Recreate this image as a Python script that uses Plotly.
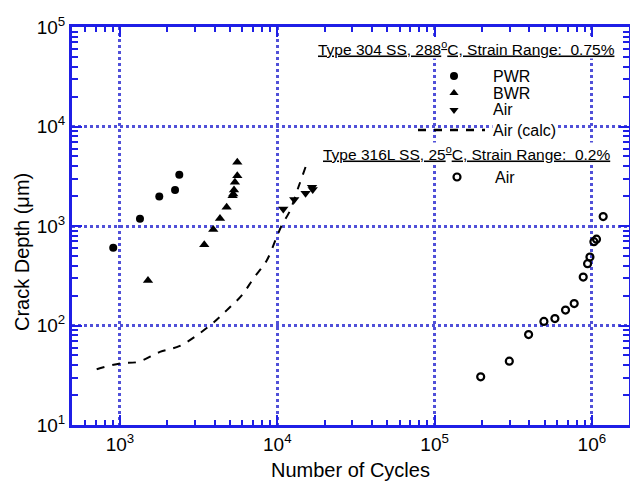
import plotly.graph_objects as go

# ---- data ----
pwr_x = [906, 1340, 1778, 2239, 2383]
pwr_y = [604, 1180, 1977, 2307, 3283]

bwr_x = [1507, 3434, 3917, 4323, 4765, 5200, 5250, 5310, 5380, 5570, 5570]
bwr_y = [284, 649, 922, 1189, 1541, 2009, 2100, 2307, 2750, 3208, 4366]

air304_x = [10920, 12820, 15130, 16630, 16800]
air304_y = [1486, 1847, 2134, 2450, 2330]

calc_x = [711, 1000, 1307, 1795, 2404, 3733, 4764, 5943, 7045, 8570, 9910, 10670, 12060, 13620, 15370]
calc_y = [36.4, 41.6, 43.1, 54.3, 62.4, 100, 142, 201, 296, 451, 773, 1012, 1429, 2450, 4210]

air316_x = [196400, 298600, 396000, 495500, 582000, 680000, 772000, 881000, 939000, 972000, 1030000, 1070000, 1180000]
air316_y = [30.5, 43.8, 81, 110, 117.5, 143, 166, 307, 418, 487, 695, 738, 1245]

x_tick_vals = [1e3, 1e4, 1e5, 1e6]
x_tick_text = ["10<sup>3</sup>", "10<sup>4</sup>", "10<sup>5</sup>", "10<sup>6</sup>"]
y_tick_vals = [1e1, 1e2, 1e3, 1e4, 1e5]
y_tick_text = ["10<sup>1</sup>", "10<sup>2</sup>", "10<sup>3</sup>", "10<sup>4</sup>", "10<sup>5</sup>"]

header304 = "<u>Type 304 SS, 288<sup>o</sup>C, Strain Range:  0.75%</u>"
header316 = "<u>Type 316L SS, 25<sup>o</sup>C, Strain Range:  0.2%</u>"
legend_labels = ["PWR", "BWR", "Air", "Air (calc)", "Air"]

BLUE = "#1f1fe6"
GRID = "#5050d8"
FONT = "Liberation Sans, Arial, sans-serif"

x_minor = [m * 10 ** k for k in range(2, 7) for m in range(2, 10)]
y_minor = [m * 10 ** k for k in range(1, 5) for m in range(2, 10)]

# plot area pixels
L, R, T, B = 72, 629, 27, 425
W, H = R - L, B - T
def px(x):
    return (x - L) / W
def py(y):
    return (B - y) / H

fig = go.Figure()

fig.add_trace(go.Scatter(x=pwr_x, y=pwr_y, mode="markers",
                         marker=dict(symbol="circle", size=8, color="black"), showlegend=False))
fig.add_trace(go.Scatter(x=bwr_x, y=bwr_y, mode="markers",
                         marker=dict(symbol="triangle-up", size=9, color="black"), showlegend=False))
fig.add_trace(go.Scatter(x=air304_x, y=air304_y, mode="markers",
                         marker=dict(symbol="triangle-down", size=9, color="black"), showlegend=False))
fig.add_trace(go.Scatter(x=calc_x, y=calc_y, mode="lines",
                         line=dict(color="black", width=2, dash="8px,8px", shape="spline"), showlegend=False))
fig.add_trace(go.Scatter(x=air316_x, y=air316_y, mode="markers",
                         marker=dict(symbol="circle-open", size=7, color="black", line=dict(width=2.2)),
                         showlegend=False))

# ---- custom legend (overlay axes in [0,1]) ----
fig.add_trace(go.Scatter(x=[px(454)], y=[py(76)], xaxis="x2", yaxis="y2", mode="markers",
                         marker=dict(symbol="circle", size=8, color="black"), showlegend=False, hoverinfo="skip"))
fig.add_trace(go.Scatter(x=[px(454)], y=[py(93)], xaxis="x2", yaxis="y2", mode="markers",
                         marker=dict(symbol="triangle-up", size=8, color="black"), showlegend=False, hoverinfo="skip"))
fig.add_trace(go.Scatter(x=[px(454)], y=[py(110)], xaxis="x2", yaxis="y2", mode="markers",
                         marker=dict(symbol="triangle-down", size=8, color="black"), showlegend=False, hoverinfo="skip"))
fig.add_trace(go.Scatter(x=[px(418), px(485)], y=[py(130), py(130)], xaxis="x2", yaxis="y2", mode="lines",
                         line=dict(color="black", width=2.5, dash="8px,8px"), showlegend=False, hoverinfo="skip"))
fig.add_trace(go.Scatter(x=[px(457)], y=[py(177)], xaxis="x2", yaxis="y2", mode="markers",
                         marker=dict(symbol="circle-open", size=7, color="black", line=dict(width=2.2)),
                         showlegend=False, hoverinfo="skip"))

annos = []
annos.append(dict(x=px(466), y=py(48), xref="paper", yref="paper", text=header304, showarrow=False,
                  font=dict(size=15.5, color="black", family=FONT), bgcolor="white", xanchor="center",
                  yanchor="middle", borderpad=0))
annos.append(dict(x=px(466), y=py(153), xref="paper", yref="paper", text=header316, showarrow=False,
                  font=dict(size=15.5, color="black", family=FONT), bgcolor="white", xanchor="center",
                  yanchor="middle", borderpad=0))
for lab, yy, xx in zip(legend_labels, [76, 93, 110, 130, 177], [492, 492, 492, 492, 494]):
    annos.append(dict(x=px(xx), y=py(yy), xref="paper", yref="paper", text=lab, showarrow=False,
                      font=dict(size=16, color="black", family=FONT), xanchor="left", yanchor="middle",
                      bgcolor="white" if lab == "Air (calc)" else None, borderpad=0))
# axis titles
annos.append(dict(x=px(350), y=py(470), xref="paper", yref="paper", text="Number of Cycles", showarrow=False,
                  font=dict(size=20, color="black", family=FONT), xanchor="center", yanchor="middle"))
annos.append(dict(x=px(22), y=py(252), xref="paper", yref="paper", text="Crack Depth (μm)", showarrow=False,
                  textangle=-90, font=dict(size=20, color="black", family=FONT), xanchor="center",
                  yanchor="middle"))

axis_common = dict(
    type="log", showline=True, linecolor=BLUE, linewidth=3, mirror="ticks",
    ticks="inside", ticklen=10, tickwidth=2, tickcolor=BLUE,
    showgrid=True, gridcolor=GRID, gridwidth=2.5, griddash="dot",
    zeroline=False, automargin=False,
    tickfont=dict(size=19, color="black", family=FONT),
)

fig.update_layout(
    width=630, height=484,
    margin=dict(l=L, r=630 - R, t=T, b=484 - B),
    paper_bgcolor="white", plot_bgcolor="white",
    font=dict(family=FONT, color="black"),
    showlegend=False,
    xaxis=dict(**axis_common, range=[2.695, 6.236], tickvals=x_tick_vals, ticktext=x_tick_text,
               minor=dict(ticks="inside", ticklen=5, tickwidth=1.5, tickcolor=BLUE, showgrid=False,
                          tickvals=x_minor)),
    yaxis=dict(**axis_common, range=[1, 5], tickvals=y_tick_vals, ticktext=y_tick_text,
               minor=dict(ticks="inside", ticklen=6, tickwidth=1.5, tickcolor=BLUE, showgrid=False,
                          tickvals=y_minor)),
    xaxis2=dict(overlaying="x", range=[0, 1], visible=False),
    yaxis2=dict(overlaying="y", range=[0, 1], visible=False),
    annotations=annos,
)

fig.write_html("out.html", config={"displayModeBar": False},
               post_script="document.body.style.margin='0';document.body.style.overflow='hidden';")
